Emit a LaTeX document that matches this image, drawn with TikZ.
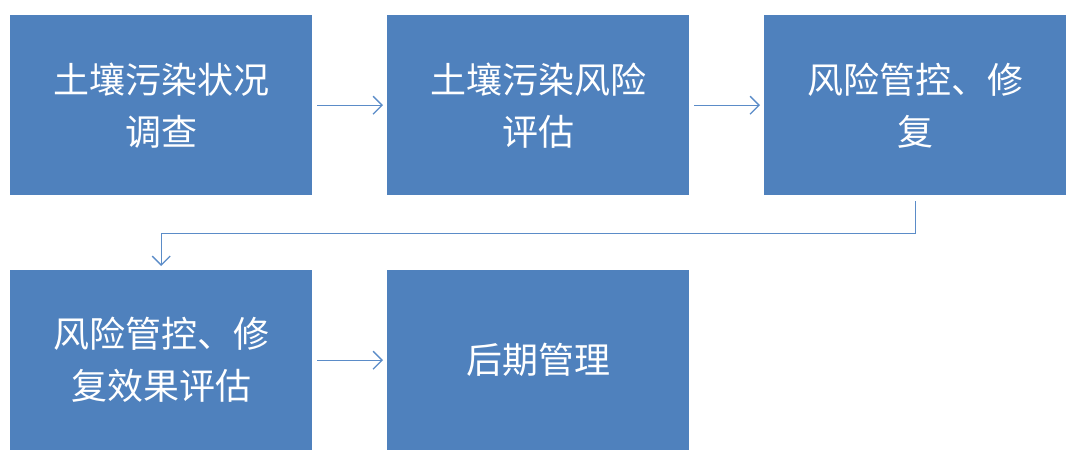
\documentclass[tikz,border=0pt]{standalone}
\usepackage{fontspec}
\setmainfont{Noto Sans CJK SC}
\usetikzlibrary{arrows.meta}
\definecolor{boxblue}{HTML}{4F81BD}
\definecolor{linkblue}{HTML}{5B8CC8}
\tikzset{
 box/.style={fill=boxblue,draw=none,text=white,minimum width=302pt,minimum height=180pt,align=center,font=\fontsize{36}{52}\selectfont,anchor=north west,inner sep=0pt},
 link/.style={draw=linkblue,line width=1.3pt,-{Straight Barb[length=9pt,width=18pt]}}
}
\begin{document}
\begin{tikzpicture}[x=1pt,y=-1pt]
\useasboundingbox (0,0) rectangle (1080,474);
\node[box] (a) at (10,15) {土壤污染状况\\调查};
\node[box] (b) at (387,15) {土壤污染风险\\评估};
\node[box] (c) at (764,15) {风险管控、修\\复};
\node[box] (d) at (10,270) {风险管控、修\\复效果评估};
\node[box] (e) at (387,270) {后期管理};
\draw[link] ([xshift=5pt]a.east) -- ([xshift=-4pt]b.west);
\draw[link] ([xshift=5pt]b.east) -- ([xshift=-4pt]c.west);
\draw[link] ([xshift=5pt]d.east) -- ([xshift=-4pt]e.west);
\draw[link] ([yshift=-6pt]c.south) -- ++(0,32) -| ([yshift=4pt]d.north);
\end{tikzpicture}
\end{document}
